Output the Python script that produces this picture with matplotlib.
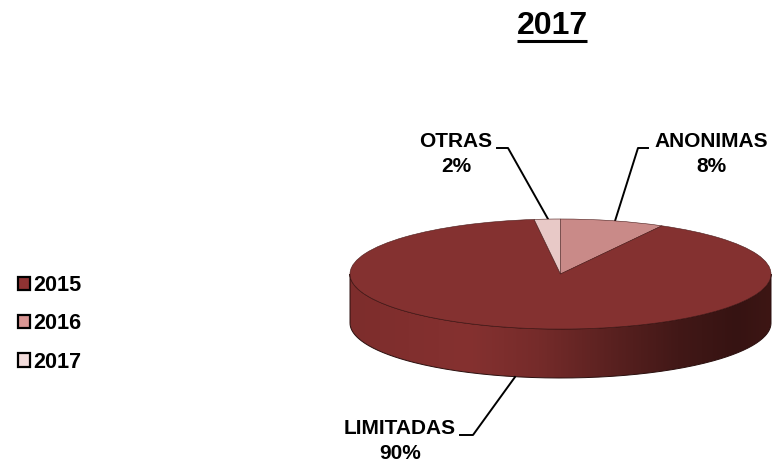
import numpy as np
import matplotlib
matplotlib.use("Agg")
import matplotlib.pyplot as plt
from matplotlib.colors import LinearSegmentedColormap
from matplotlib.patches import Patch, PathPatch
from matplotlib.path import Path

plt.rcParams['font.family'] = ['Liberation Sans', 'DejaVu Sans']
plt.rcParams['font.weight'] = 'bold'

title = "2017"
categories = ["ANONIMAS", "LIMITADAS", "OTRAS"]
values = [8, 90, 2]
years = ["2015", "2016", "2017"]
legend_colors = ["#8f3333", "#d99694", "#f2dcdb"]
slice_colors = ["#c98a88", "#843130", "#e8c9c7"]

W, H = 775, 470
cx, cy, rx, ry, depth = 560.5, 274, 210.5, 55, 49

fig = plt.figure(figsize=(W / 100, H / 100), dpi=100)

# whole figure axes in pixel coords, for the wall, labels and leaders
ax = fig.add_axes([0, 0, 1, 1])
ax.set_xlim(0, W)
ax.set_ylim(H, 0)
ax.axis("off")

# side wall of the 3d pie
t = np.linspace(np.pi, 0, 200)
x_low = cx + rx * np.cos(t)
y_low = cy + ry * np.sin(t) + depth
x_up = x_low[::-1]
y_up = cy + ry * np.sin(t)[::-1]
wall_xy = np.vstack([np.column_stack([x_low, y_low]), np.column_stack([x_up, y_up]), [[x_low[0], y_low[0]]]])
wall_path = Path(wall_xy)

wall_cmap = LinearSegmentedColormap.from_list("wall", [
    (0.0, "#7d2d2c"), (0.28, "#853130"), (0.45, "#752b2a"), (0.62, "#5a2120"),
    (0.78, "#421817"), (0.92, "#361312"), (1.0, "#3d1614")])
img = ax.imshow(np.linspace(0, 1, 256).reshape(1, -1), cmap=wall_cmap, aspect="auto",
                extent=(cx - rx, cx + rx, cy + ry + depth, cy), zorder=1)
outline = PathPatch(wall_path, fc="none", ec="#2a0f0e", lw=0.7, zorder=2)
ax.add_patch(outline)
img.set_clip_path(outline)
ax.set_xlim(0, W)
ax.set_ylim(H, 0)

# top face, squashed pie in its own axes
pie_ax = fig.add_axes([(cx - rx) / W, 1 - (cy + ry) / H, 2 * rx / W, 2 * ry / H], zorder=2)
pie_ax.pie(values, colors=slice_colors, startangle=90, counterclock=False, radius=1,
           wedgeprops={"edgecolor": "#4a1a19", "linewidth": 0.4})
pie_ax.set_aspect("auto")
pie_ax.set_xlim(-1, 1)
pie_ax.set_ylim(-1, 1)
pie_ax.patch.set_alpha(0)

# leader lines
ax.plot([648, 638, 615], [148, 148, 221], color="black", lw=1.4, zorder=3)
ax.plot([497, 508, 548], [148, 148, 219], color="black", lw=1.4, zorder=3)
ax.plot([460, 473, 515], [435, 435, 377], color="black", lw=1.4, zorder=3)

# data labels
label_pos = [(711, 154), (400, 441), (456, 154)]
for name, val, (lx, ly) in zip(categories, values, label_pos):
    ax.text(lx, ly, "{}\n{}%".format(name, val), ha="center", va="center", fontsize=15,
            fontweight="bold", linespacing=1.36, color="black")

# title with underline
ax.text(552, 26, title, ha="center", va="center", fontsize=23, fontweight="bold", color="black")
ax.plot([517, 587], [41, 41], color="black", lw=2.2, solid_capstyle="butt")

# legend, years do not match the slices in the source either
handles = [Patch(facecolor=c, edgecolor="black", linewidth=1.6) for c in legend_colors]
fig.legend(handles, years, loc="upper left", bbox_to_anchor=(18 / W, 1 - 275 / H), borderaxespad=0,
           borderpad=0, frameon=False, handlelength=0.55, handleheight=0.55, handletextpad=0.15,
           labelspacing=0.8, prop={"size": 15.6, "weight": "bold"})

fig.savefig("out.png", dpi=100, facecolor="white")
